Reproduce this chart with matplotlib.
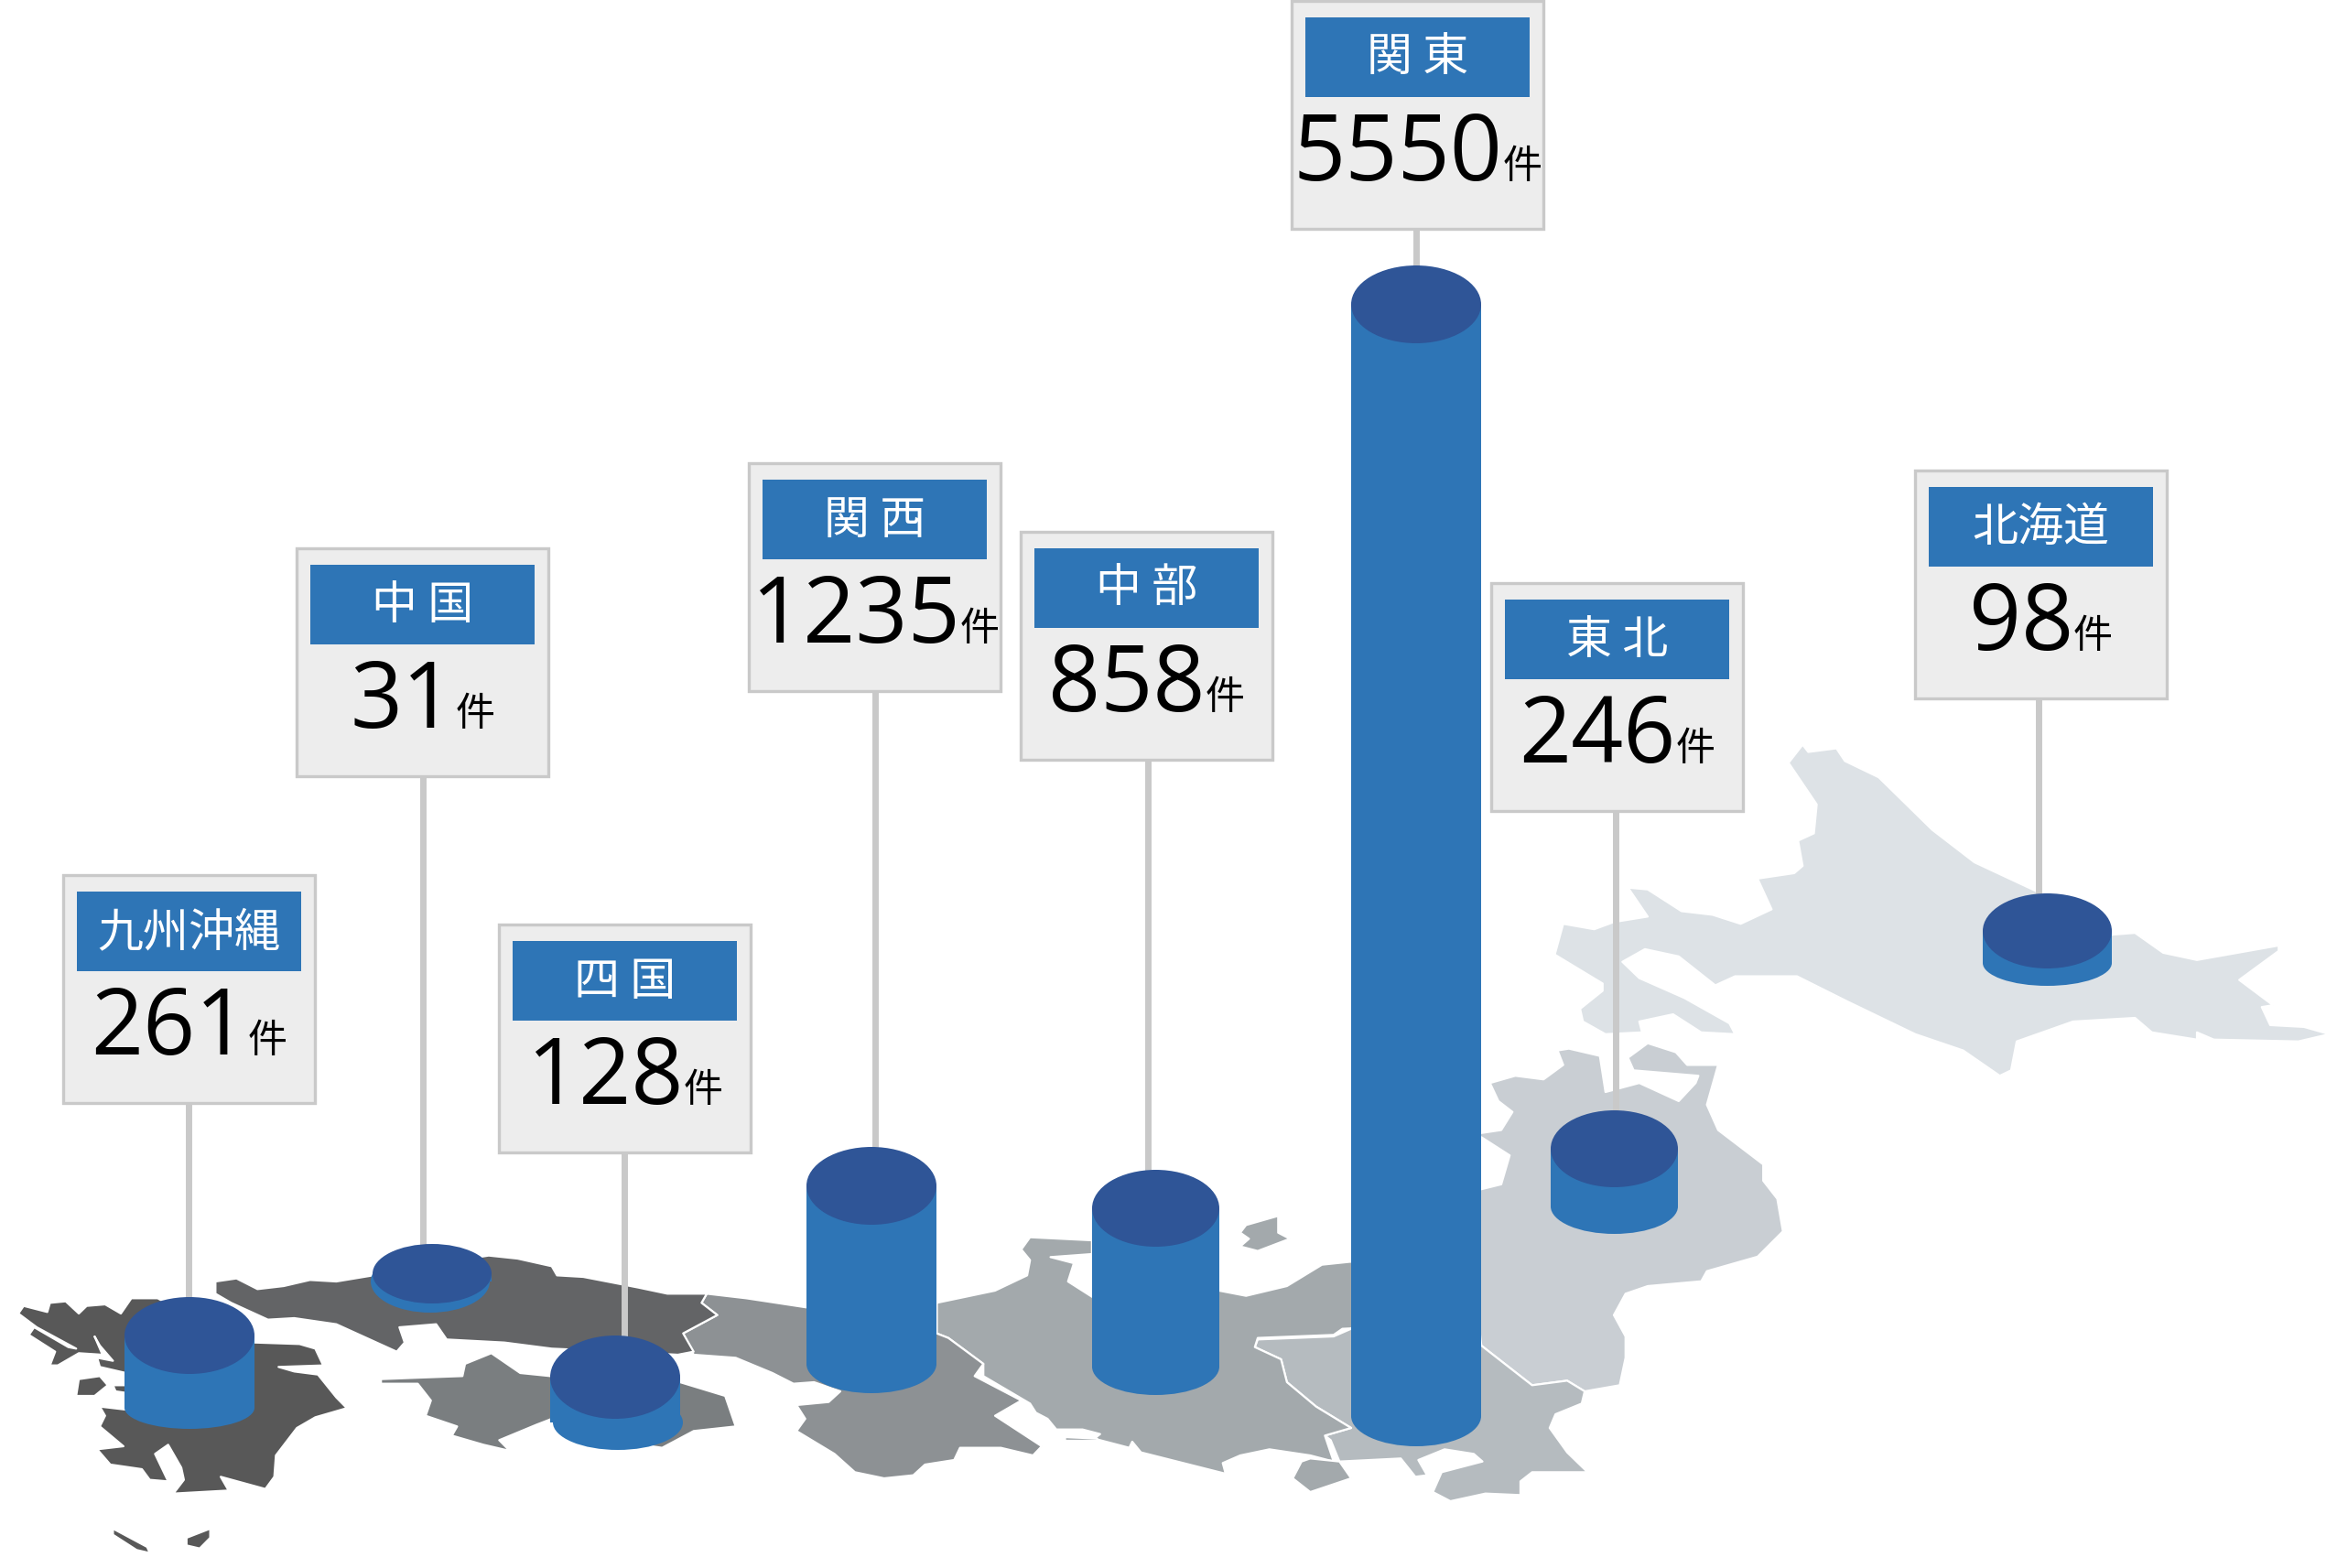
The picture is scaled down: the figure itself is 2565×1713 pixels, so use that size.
import matplotlib
matplotlib.use("Agg")
import matplotlib.pyplot as plt
from matplotlib.patches import Polygon, Rectangle, Ellipse

# ---- data ----
regions = ["九州沖縄", "中 国", "四 国", "関 西", "中 部", "関 東", "東 北", "北海道"]
counts = [261, 31, 128, 1235, 858, 5550, 246, 98]
unit = "件"

# ---- layout (pixels in the picture) ----
box_left = [69, 324, 545, 818, 1115, 1411, 1629, 2092]
box_top = [956, 599, 1010, 506, 581, 1, 637, 514]
stem_x = [205.5, 462, 682, 956, 1254, 1547, 1765, 2227]
cyl_l = [136, 407, 601, 881, 1193, 1476, 1694, 2166]
cyl_r = [278, 537, 743, 1023, 1332, 1618, 1833, 2307]
cyl_top = [1417, 1359, 1459, 1253, 1278, 290, 1213, 976]
cap_h = [84, 65, 91, 85, 84, 85, 84, 82]
body_end = [1538, 1400, 1554, 1490, 1493, 1547, 1318, 1052]
cyl_bottom = [1561, 1434, 1584, 1522, 1524, 1580, 1348, 1077]
base_dx = [0, -2, 3, 0, 0, 0, 0, 0]
BOX_W, BOX_H = 275, 249
SIDE, CAP = "#2E75B6", "#2F5597"
BOX_F, BOX_E = "#EDEDED", "#C9C9C9"
DPI = 100

# ---- background map outlines ----
z1 = lambda pts: [(x / 1.742, 1250 + y / 3) for x, y in pts]
z2 = lambda pts: [(800 + x / 1.568, 1250 + y / 3) for x, y in pts]
z3 = lambda pts: [(1600 + x / 1.625, 780 + y / 2.53) for x, y in pts]

kyushu = z1([(35,555),(45,530),(90,550),(95,520),(125,515),(150,555),(165,530),(200,525),(230,555),(250,505),(300,505),(400,600),(484,650),(570,655),(600,670),(615,725),(530,730),(560,745),(605,755),(640,830),(660,865),(600,895),(565,930),(525,1020),(522,1090),(505,1130),(420,1090),(435,1135),(330,1145),(350,1100),(345,1060),(320,985),(295,1015),(320,1105),(285,1100),(270,1065),(210,1050),(185,1000),(235,990),(190,925),(200,890),(190,860),(240,870),(240,750),(190,730),(185,700),(215,710),(190,660),(180,630),(195,690),(150,685),(110,725),(95,725),(105,680),(55,625),(65,600),(130,665),(145,670),(70,600)])
kyushu_isles = [z1(p) for p in [
    [(150,770),(190,760),(205,790),(180,825),(145,825)],
    [(215,790),(240,790),(240,815),(220,810)],
    [(215,1260),(280,1320),(285,1340),(260,1330),(215,1280)],
    [(400,1260),(400,1290),(380,1325),(355,1315),(355,1290)]]]
chugoku = z1([(410,450),(450,440),(490,475),(540,465),(590,445),(640,450),(710,430),(800,400),(930,365),(985,375),(1050,400),(1060,430),(1110,435),(1215,470),(1270,490),(1345,490),(1335,520),(1365,560),(1300,620),(1320,680),(1290,690),(1180,680),(1050,670),(960,650),(850,640),(830,590),(760,600),(770,650),(755,680),(640,590),(560,570),(510,575),(440,520),(410,490)])
shikoku = z1([(725,770),(800,765),(880,760),(885,720),(935,685),(990,750),(1047,760),(1294,780),(1380,825),(1400,925),(1320,940),(1260,995),(1240,990),(1050,900),(1020,920),(950,970),(970,1005),(920,985),(860,955),(870,925),(810,890),(820,840),(795,785),(725,785)])
kansai = z1([(1345,490),(1420,505),(1535,535)]) + z2([(127,530),(350,520),(350,620),(370,635),(430,720),(415,760),(495,840),(450,890),(530,990),(515,1020),(460,995),(390,995),(380,1035),(330,1050),(310,1085),(260,1095),(210,1075),(175,1015),(110,940),(125,900),(110,855),(165,845),(185,810),(140,780)]) + z1([(1510,785),(1470,750),(1400,700),(1320,690),(1300,620),(1365,560),(1335,520)])
chubu = z2([(350,520),(450,480),(505,430),(510,380),(495,345),(510,305),(616,315),(616,360),(545,370),(585,390),(575,450),(616,500),(834,480),(880,497),(950,465),(1010,395),(1060,385),(1100,385),(1100,600),(1045,605),(1030,625),(900,635),(895,665),(940,705),(950,780),(1000,860),(1060,930),(1015,955),(1030,1040),(990,1020),(920,1000),(870,1020),(840,1045),(845,1080),(700,1010),(685,975),(680,995),(620,965),(630,950),(600,935),(555,935),(540,900),(520,880),(510,850),(430,760),(430,720),(370,635),(350,620)])
chubu_isles = [z2(p) for p in [
    [(975,1040),(990,1030),(1040,1040),(1060,1095),(990,1140),(960,1095)],
    [(935,235),(935,290),(955,310),(900,350),(870,335),(885,310),(870,290),(880,265)],
    [(570,960),(625,965),(625,972),(570,972)]]]
kanto = z2([(900,640),(1030,630),(1060,605),(1283,660),(1370,790),(1430,775),(1460,810),(1455,850),(1410,885),(1400,930),(1430,1010),(1465,1075),(1370,1075),(1350,1105),(1350,1150),(1290,1145),(1230,1170),(1200,1140),(1215,1075),(1285,1040),(1270,1015),(1220,1000),(1175,1035),(1190,1085),(1170,1090),(1145,1030),(1040,1040),(1025,970),(1015,955),(1060,930),(1000,860),(950,780),(940,705),(895,665)])
tohoku = z3([(45,1020),(60,1070),(85,1100),(65,1150),(0,1165),(30,1170),(80,1220),(65,1300),(0,1325)]) + z2([(1283,660),(1370,790),(1430,775),(1460,810),(1520,790),(1530,700),(1530,630),(1510,560),(1530,490),(1568,465)]) + z3([(420,1568),(430,1540),(520,1500),(565,1430),(555,1340),(530,1290),(530,1245),(450,1150),(430,1080),(450,970),(395,970),(375,935),(325,910),(290,950),(300,985),(415,1000),(410,1020),(380,1070),(310,1020),(250,1045),(240,945),(185,925),(165,930),(175,970),(140,1010),(90,1000)])
hokkaido = z3([(600,85),(610,105),(660,95),(675,130),(735,175),(830,320),(905,410),(1015,490),(1100,560),(1149,610),(1190,605),(1240,660),(1300,680),(1445,640),(1445,655),(1375,735),(1435,805),(1415,810),(1430,860),(1490,865),(1535,885),(1480,905),(1330,900),(1300,880),(1300,900),(1220,880),(1190,840),(1080,850),(980,905),(970,985),(950,1000),(885,930),(800,885),(680,795),(590,725),(480,725),(445,750),(380,670),(320,650),(280,685),(310,730),(390,785),(470,855),(480,885),(420,880),(370,830),(310,850),(315,880),(250,885),(210,850),(205,815),(245,765),(245,745),(160,665),(175,580),(230,595),(265,575),(325,560),(290,480),(325,485),(385,545),(440,555),(490,580),(545,540),(520,455),(585,440),(600,420),(592,350),(620,330),(625,250),(575,135)])

map_layers = [
    ([hokkaido], "#DDE2E6"), ([tohoku], "#C9CED3"), ([kanto], "#B5BBBF"),
    ([chubu] + chubu_isles, "#A3A9AC"), ([kansai], "#8D9194"),
    ([shikoku], "#7A7E80"), ([chugoku], "#636466"), ([kyushu] + kyushu_isles, "#585858"),
]

fig = plt.figure(figsize=(25.65, 17.13), dpi=DPI)
ax = fig.add_axes([0, 0, 1, 1])
ax.set_xlim(0, 2565)
ax.set_ylim(1713, 0)
ax.axis("off")

for polys, col in map_layers:
    for p in polys:
        ax.add_patch(Polygon(p, closed=True, fc=col, ec="white", lw=1.6, joinstyle="round", zorder=1))

cjk = ["Noto Sans CJK JP", "DejaVu Sans"]
renderer = fig.canvas.get_renderer()

for i, (name, n) in enumerate(zip(regions, counts)):
    l, t = box_left[i], box_top[i]
    cx = l + BOX_W / 2
    # stem
    ax.plot([stem_x[i], stem_x[i]], [t + BOX_H, cyl_top[i] + 10], color=BOX_E, lw=5, solid_capstyle="butt", zorder=2)
    # cylinder
    w = cyl_r[i] - cyl_l[i]
    ccx = (cyl_l[i] + cyl_r[i]) / 2
    end = body_end[i]
    base_h = 2 * (cyl_bottom[i] - end)
    ax.add_patch(Ellipse((ccx + base_dx[i], end), w, base_h, fc=SIDE, ec="none", zorder=3))
    cap_cy = cyl_top[i] + cap_h[i] / 2
    ax.add_patch(Rectangle((cyl_l[i], cap_cy), w, end - cap_cy, fc=SIDE, ec="none", zorder=3))
    ax.add_patch(Ellipse((ccx, cap_cy), w, cap_h[i], fc=CAP, ec="none", zorder=4))
    # sign
    ax.add_patch(Rectangle((l, t), BOX_W, BOX_H, fc=BOX_F, ec=BOX_E, lw=2.4, zorder=5))
    ax.add_patch(Rectangle((l + 15, t + 18), 245, 87, fc=SIDE, ec="none", zorder=6))
    ax.text(cx, t + 63, name, color="white", fontsize=36, family=cjk, ha="center", va="center", zorder=7)
    base = t + 196
    tn = ax.text(0, base, str(n), color="black", fontsize=72, family="Open Sans", ha="left", va="baseline", zorder=7)
    tu = ax.text(0, base - 2, unit, color="black", fontsize=31, family=cjk, ha="left", va="baseline", zorder=7)
    wn = tn.get_window_extent(renderer).width
    wu = tu.get_window_extent(renderer).width
    x0 = cx - (wn + wu) / 2
    tn.set_x(x0)
    tu.set_x(x0 + wn)

fig.savefig("out.png", dpi=DPI, facecolor="white")
